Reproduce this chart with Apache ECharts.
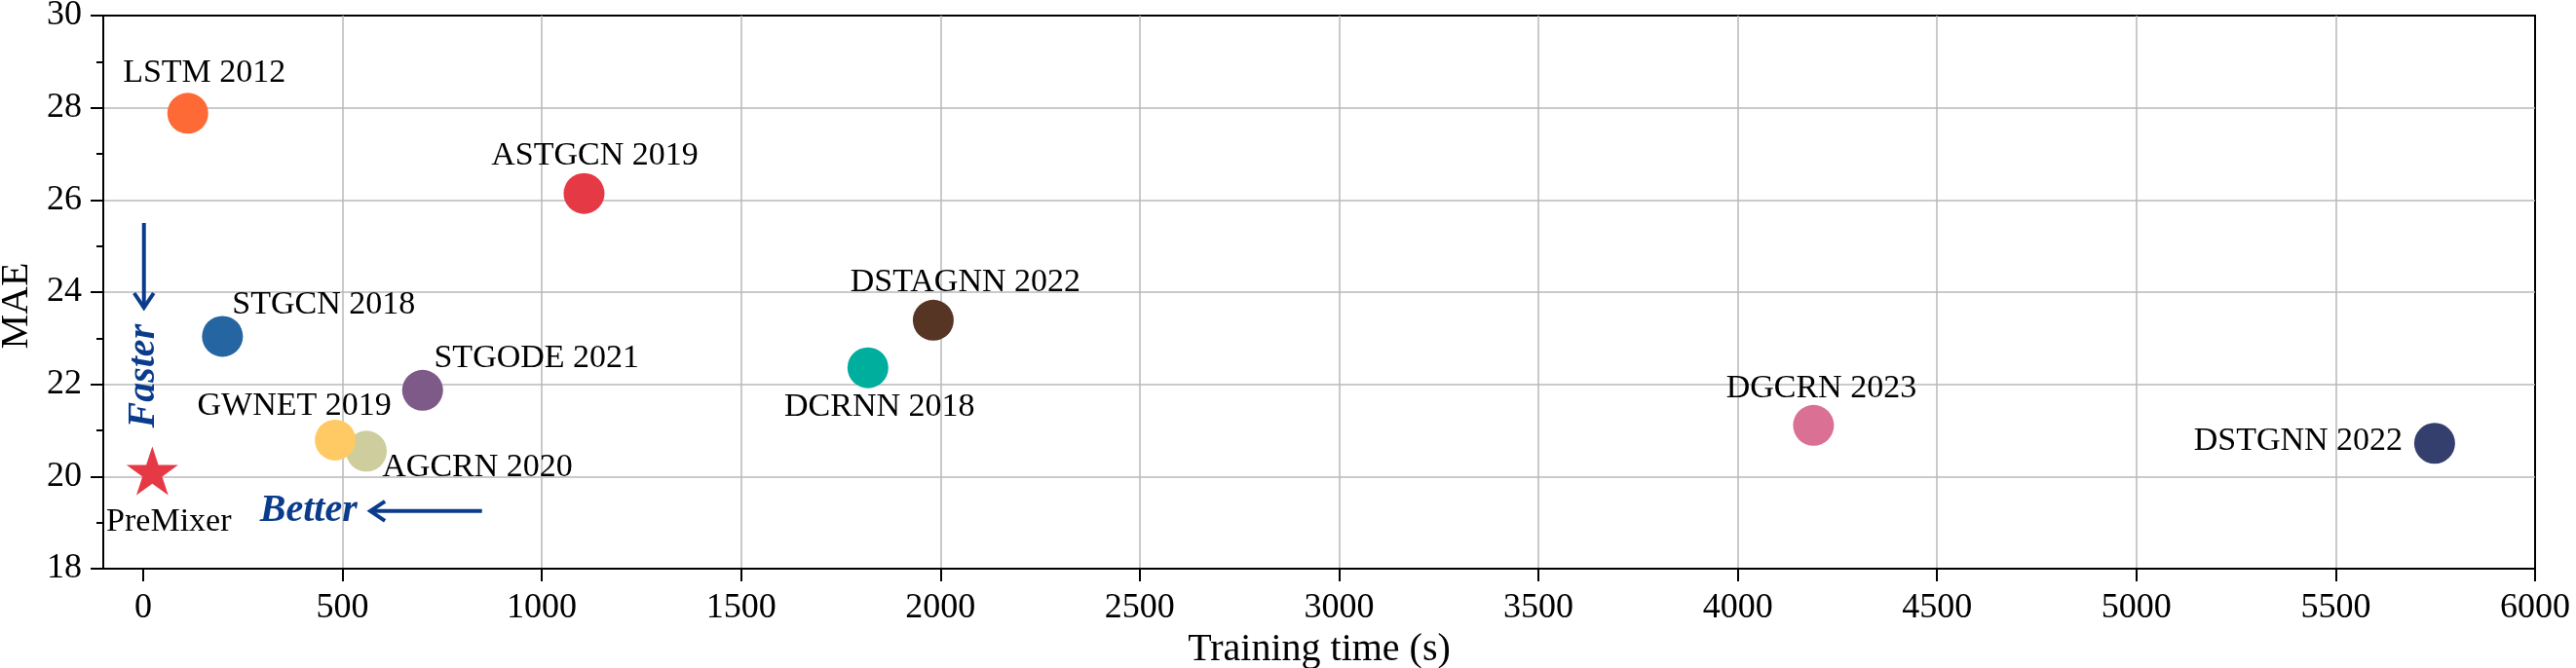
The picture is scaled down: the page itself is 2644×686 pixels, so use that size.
<!DOCTYPE html>
<html>
<head>
<meta charset="utf-8">
<script src="https://cdn.jsdelivr.net/npm/echarts@6/dist/echarts.min.js"></script>
<style>
html,body{margin:0;padding:0;background:#fff;}
#main{width:2644px;height:686px;}
</style>
</head>
<body>
<div id="main"></div>
<script>
// 模型名称 / 训练时间 / MAE
var modelNames = ['LSTM 2012','ASTGCN 2019','STGCN 2018','STGODE 2021','AGCRN 2020','GWNET 2019','DSTAGNN 2022','DCRNN 2018','DGCRN 2023','DSTGNN 2022'];
var trainTime  = [112, 1106, 199, 701, 560, 482, 1982, 1818, 4190, 5748];
var maeValues  = [27.88, 26.14, 23.04, 21.87, 20.55, 20.79, 23.39, 22.36, 21.11, 20.72];
var oursName = 'PreMixer';
var oursTime = 23;
var oursMae  = 20.06;
var xTicks = [0,500,1000,1500,2000,2500,3000,3500,4000,4500,5000,5500,6000];
// 箭头 [x1,y1,x2,y2] 以及文字注释
var arrows = [[2, 25.5, 2, 23.62], [850, 19.25, 565, 19.25]];
var notes = [['Faster', 3, 22.18], ['Better', 415, 19.25]];

// 样式
var colors = ['#fe6a35','#e63946','#2565a1','#7e5a88','#cdcd9d','#ffca63','#573524','#00ae9e','#da7093','#353f6e'];
var labelOffsets = [[17,-41],[11,-39],[104,-32],[117,-33],[114,17],[-42,-35],[33,-39],[12,40],[8,-38],[-140,-2]];
var FONT = '"Liberation Serif", "Times New Roman", serif';
var BLUE = '#0b3c8c';

var myChart = echarts.init(document.getElementById('main'), null, {renderer:'canvas'});

var pts = [];
for (var i = 0; i < modelNames.length; i++) {
	pts.push({
		name: modelNames[i],
		value: [trainTime[i], maeValues[i]],
		itemStyle: {color: colors[i], opacity: 1},
		label: {offset: labelOffsets[i]}
	});
}

function renderArrow(params, api) {
	var p1 = api.coord([api.value(0), api.value(1)]);
	var p2 = api.coord([api.value(2), api.value(3)]);
	var ang = Math.atan2(p2[1]-p1[1], p2[0]-p1[0]);
	var c = Math.cos(ang), s = Math.sin(ang);
	var L = 17, W = 10;
	var back = [p2[0]-L*c, p2[1]-L*s];
	return {
		type: 'group',
		children: [
			{type:'line', shape:{x1:p1[0], y1:p1[1], x2:p2[0]-2*c, y2:p2[1]-2*s}, style:{stroke:BLUE, lineWidth:4}},
			{type:'polyline', shape:{points:[[back[0]-W*s, back[1]+W*c],[p2[0]-2*c, p2[1]-2*s],[back[0]+W*s, back[1]-W*c]]},
				style:{stroke:BLUE, lineWidth:4, fill:null, lineJoin:'miter'}}
		]
	};
}

function renderNote(params, api) {
	var p = api.coord([api.value(1), api.value(2)]);
	var txt = notes[params.dataIndex][0];
	return {
		type: 'text',
		x: p[0], y: p[1],
		rotation: txt === 'Faster' ? Math.PI/2 : 0,
		style: {text: txt, font: 'italic bold 40px ' + FONT, fill: BLUE, align:'center', verticalAlign:'middle'}
	};
}

var option = {
	backgroundColor: '#fff',
	animation: false,
	grid: {left:106, right:42, top:16, bottom:102, outerBoundsMode:'none', containLabel:false,
		show:true, borderColor:'#000', borderWidth:2, backgroundColor:'transparent'},
	xAxis: {
		type: 'value', min: -100, max: 6000,
		name: 'Training time (s)', nameLocation: 'middle', nameGap: 55,
		nameTextStyle: {fontFamily: FONT, fontSize: 40, color: '#000'},
		axisLine: {show:true, onZero:false, lineStyle:{color:'#000', width:2}},
		axisTick: {show:true, length:13, lineStyle:{color:'#000', width:2}, customValues: xTicks},
		axisLabel: {fontFamily: FONT, fontSize: 36, color:'#000', margin: 23, customValues: xTicks,
			formatter: function (v) { return String(v); }},
		splitLine: {show:true, showMinLine:false, showMaxLine:false, lineStyle:{color:'#b8b8b8', width:1.5}}
	},
	yAxis: {
		type: 'value', min: 18, max: 30, interval: 2,
		name: 'MAE', nameLocation: 'middle', nameGap: 54, nameRotate: 90,
		nameTextStyle: {fontFamily: FONT, fontSize: 40, color: '#000', padding:[0,28,0,0]},
		axisLine: {show:true, onZero:false, lineStyle:{color:'#000', width:2}},
		axisTick: {show:true, length:13, lineStyle:{color:'#000', width:2}},
		minorTick: {show:true, splitNumber:2, length:7, lineStyle:{color:'#000', width:2}},
		axisLabel: {fontFamily: FONT, fontSize: 36, color:'#000', margin: 22},
		splitLine: {show:true, showMinLine:false, showMaxLine:false, lineStyle:{color:'#b8b8b8', width:1.5}}
	},
	series: [
		{
			type: 'scatter',
			symbol: 'circle',
			symbolSize: 42,
			data: pts,
			label: {
				show: true, position: 'inside', align:'center', verticalAlign:'middle',
				formatter: '{b}', fontFamily: FONT, fontSize: 34, color: '#000'
			},
			emphasis: {disabled: true},
			z: 3
		},
		{
			type: 'scatter',
			symbol: 'path://M0,-1 L0.2245,-0.309 L0.9511,-0.309 L0.3633,0.118 L0.5878,0.809 L0,0.382 L-0.5878,0.809 L-0.3633,0.118 L-0.9511,-0.309 L-0.2245,-0.309 Z',
			symbolSize: [53, 50],
			symbolOffset: [0, -3],
			itemStyle: {color: '#e63946', opacity: 1},
			data: [{name: oursName, value: [oursTime, oursMae]}],
			label: {
				show: true, position: 'inside', align:'center', verticalAlign:'middle', offset:[17, 53],
				formatter: '{b}', fontFamily: FONT, fontSize: 34, color: '#000'
			},
			emphasis: {disabled: true},
			z: 3
		},
		{
			type: 'custom',
			renderItem: renderArrow,
			data: arrows,
			clip: false,
			silent: true,
			z: 4
		},
		{
			type: 'custom',
			renderItem: renderNote,
			data: notes,
			encode: {x: 1, y: 2},
			clip: false,
			silent: true,
			z: 4
		}
	]
};
myChart.setOption(option);
</script>
</body>
</html>
